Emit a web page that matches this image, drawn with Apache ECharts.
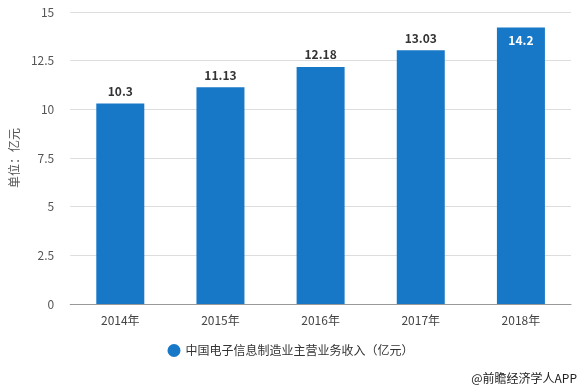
<!DOCTYPE html>
<html><head><meta charset="utf-8">
<script src="https://cdn.jsdelivr.net/npm/echarts@6/dist/echarts.min.js"></script>
<style>html,body{margin:0;padding:0;background:#fff}#c{width:581px;height:388px}</style>
</head><body><div id="c"></div>
<script>
var categories = ['2014年','2015年','2016年','2017年','2018年'];
var values = [10.3, 11.13, 12.18, 13.03, 14.2];
var seriesName = '中国电子信息制造业主营业务收入（亿元）';
var yTicks = [0, 2.5, 5, 7.5, 10, 12.5, 15];

var chart = echarts.init(document.getElementById('c'));
var data = values.map(function(v, i){
  if (i === values.length - 1) {
    return {value: v, label: {position: 'insideTop', color: '#fff', distance: 7}};
  }
  return v;
});
chart.setOption({
  animation: false,
  textStyle: {fontFamily: '"Microsoft YaHei","Noto Sans CJK SC",sans-serif'},
  grid: {left: 67, right: 10, top: 12, bottom: 84},
  legend: {
    bottom: 26, left: 'center', icon: 'circle', itemWidth: 13, itemHeight: 13,
    textStyle: {fontSize: 12, color: '#333'}, data: [seriesName]
  },
  xAxis: {
    type: 'category', data: categories,
    axisLine: {lineStyle: {color: '#999'}},
    axisTick: {alignWithLabel: true, lineStyle: {color: '#999'}},
    axisLabel: {color: '#444', fontSize: 12, margin: 10}
  },
  yAxis: {
    type: 'value', min: yTicks[0], max: yTicks[yTicks.length-1], interval: 2.5,
    name: '单位：亿元', nameLocation: 'middle', nameGap: 40,
    nameTextStyle: {color: '#555', fontSize: 12},
    axisLine: {show: false}, axisTick: {show: false},
    axisLabel: {color: '#555', fontSize: 12, margin: 16},
    splitLine: {lineStyle: {color: '#ddd'}}
  },
  series: [{
    name: seriesName, type: 'bar', data: data, barWidth: 48,
    itemStyle: {color: '#1878c8'},
    label: {show: true, position: 'top', color: '#333', fontSize: 12, fontWeight: 'bold', distance: 6}
  }],
  graphic: [{
    type: 'text', right: 4, bottom: 4,
    style: {text: '@前瞻经济学人APP', fill: '#222', font: '12px "Noto Sans CJK SC", sans-serif'}
  }]
});
</script></body></html>
